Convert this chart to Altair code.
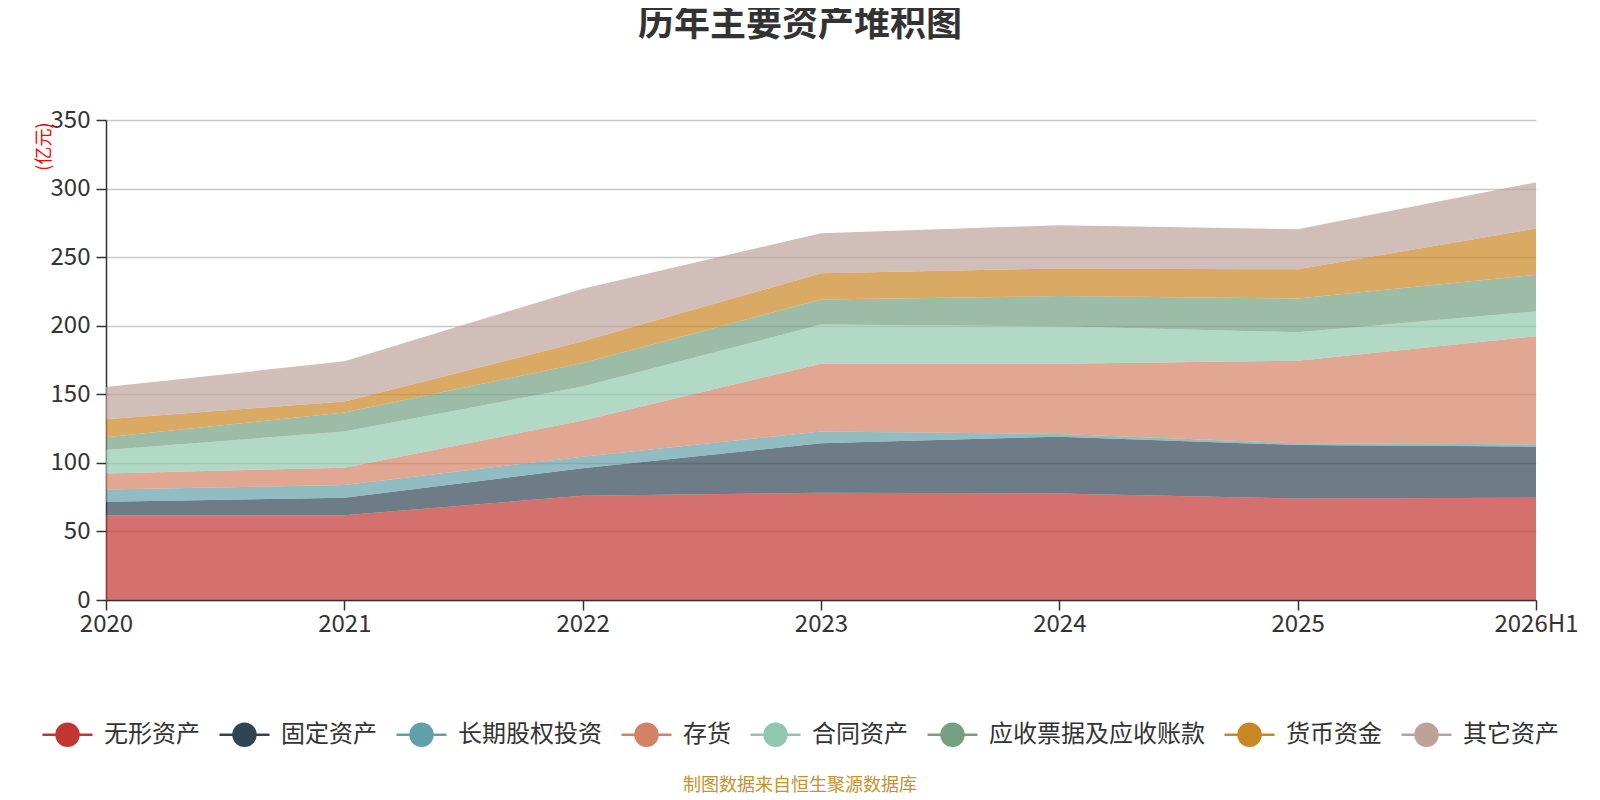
import altair as alt
import pandas as pd

periods = ["2020", "2021", "2022", "2023", "2024", "2025", "2026H1"]
series = ["无形资产", "固定资产", "长期股权投资", "存货", "合同资产", "应收票据及应收账款", "货币资金", "其它资产"]
colors = ["#c23531", "#2f4554", "#61a0a8", "#d48265", "#91c7ae", "#749f83", "#ca8622", "#bda29a"]

intangible = [61.8, 61.8, 76.0, 78.2, 77.7, 74.0, 74.5]
fixed = [9.8, 12.7, 20.0, 36.1, 41.4, 39.0, 37.3]
lt_equity = [9.0, 9.3, 8.5, 8.5, 2.0, 1.3, 1.8]
inventory = [11.7, 12.7, 26.3, 49.5, 51.2, 60.2, 78.7]
contract = [17.1, 26.3, 24.9, 28.5, 27.3, 20.7, 18.1]
receivables = [9.3, 13.9, 17.1, 18.3, 22.0, 24.7, 26.8]
cash = [13.1, 8.1, 15.8, 19.1, 20.2, 21.2, 33.7]
other = [23.5, 29.2, 38.4, 29.2, 31.5, 29.3, 33.6]

values = [intangible, fixed, lt_equity, inventory, contract, receivables, cash, other]

rows = []
for si, (name, vals) in enumerate(zip(series, values)):
    for p, v in zip(periods, vals):
        rows.append({"period": p, "series": name, "value": v, "order": si})
df = pd.DataFrame(rows)

FONT = "Noto Sans CJK SC"
W, H = 1430, 480

legend_path = "M-1,0L1,0M-0.44,0A0.44,0.44,0,1,0,0.44,0A0.44,0.44,0,1,0,-0.44,0Z"

leg = alt.Legend(title=None, orient="none", direction="horizontal",
                 columns=8, legendX=-65, legendY=588,
                 symbolType=legend_path, symbolSize=2500,
                 symbolStrokeWidth=2.5, symbolOpacity=1,
                 labelFontSize=24, labelFont=FONT, labelColor="#333",
                 labelOffset=10, columnPadding=14, padding=0, labelLimit=400)

areas = alt.Chart(df).mark_area(fillOpacity=0.7, strokeWidth=0).encode(
    x=alt.X("period:O", sort=periods,
            scale=alt.Scale(type="point", padding=0),
            axis=alt.Axis(title=None, labelAngle=0, labelFontSize=24, labelFont=FONT,
                          labelColor="#333", domainColor="#333", domainWidth=1.5,
                          tickColor="#333", tickSize=10, tickWidth=1.5, labelPadding=2,
                          labelOverlap=False, labelBound=False, labelFlush=False, grid=False)),
    y=alt.Y("value:Q", stack="zero",
            scale=alt.Scale(domain=[0, 350], nice=False),
            axis=alt.Axis(title="(亿元)", values=[0, 50, 100, 150, 200, 250, 300, 350],
                          labelFontSize=24, labelFont=FONT, labelColor="#333",
                          domainColor="#333", domainWidth=1.5, tickColor="#333",
                          tickSize=10, tickWidth=1.5, labelPadding=6,
                          gridColor="#c8c8c8", gridWidth=1.5,
                          titleColor="red", titleFontSize=18, titleFont=FONT,
                          titleFontWeight="normal", titleAngle=270, titleAlign="right",
                          titleBaseline="middle", titleX=-62, titleY=2)),
    fill=alt.Fill("series:N", sort=series,
                  scale=alt.Scale(domain=series, range=colors), legend=leg),
    stroke=alt.Stroke("series:N", sort=series,
                      scale=alt.Scale(domain=series, range=colors), legend=leg),
    order=alt.Order("order:Q"),
)

footer = alt.Chart(pd.DataFrame({"t": ["制图数据来自恒生聚源数据库"]})).mark_text(
    font=FONT, fontSize=18, color="#c8922a", align="center", baseline="middle"
).encode(text="t:N", x=alt.value(694), y=alt.value(666))

chart = alt.layer(areas, footer).properties(
    width=W, height=H,
    title=alt.TitleParams("历年主要资产堆积图", fontSize=36, font=FONT, fontWeight="bold",
                          color="#333", anchor="middle", dx=-21, offset=28,
                          baseline="bottom"),
    autosize=alt.AutoSizeParams(type="none"),
    padding={"left": 98, "top": 112, "right": 56, "bottom": 198},
).configure_view(stroke=None)

chart.save("out.html", embed_options={"renderer": "svg", "actions": False})
